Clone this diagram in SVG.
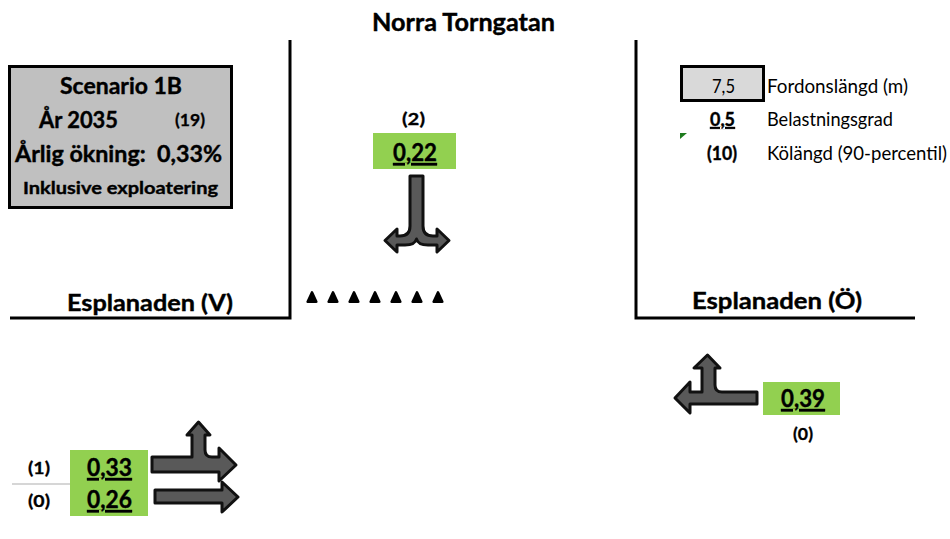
<svg xmlns="http://www.w3.org/2000/svg" width="950" height="539" viewBox="0 0 950 539">
  <style>
    text { font-family: Lato, "Liberation Sans", sans-serif; fill: #000; }
    .b { font-weight: bold; stroke: #000; stroke-width: 0.4; }
    .road { stroke: #000; stroke-width: 3; fill: none; }
    .green { fill: #92d050; }
    .arrow { fill: #595959; stroke: #111; stroke-width: 3; stroke-linejoin: round; }
    .val { font-weight: bold; font-size: 24.5px; text-decoration: underline; stroke: #000; stroke-width: 0.4; }
    .q { font-weight: bold; font-size: 17px; stroke: #000; stroke-width: 0.3; }
    .leg { font-size: 19px; }
    .ped { fill: #000; stroke: #000; stroke-width: 2.4; stroke-linejoin: round; }
  </style>
  <defs>
    <polygon id="tri" class="ped" points="0,-5.2 4.4,4.2 -4.4,4.2"/>
  </defs>

  <rect width="950" height="539" fill="#fff"/>

  <!-- street edges and names -->
  <g id="streets">
    <polyline class="road" points="290,40 290,318 10,318"/>
    <polyline class="road" points="636,40 636,318 915,318"/>
    <text class="b" x="372" y="31" font-size="25.5" textLength="183" lengthAdjust="spacingAndGlyphs">Norra Torngatan</text>
    <text class="b" x="67" y="311" font-size="23" textLength="166" lengthAdjust="spacingAndGlyphs">Esplanaden (V)</text>
    <text class="b" x="692" y="309" font-size="23" textLength="170" lengthAdjust="spacingAndGlyphs">Esplanaden (Ö)</text>
  </g>

  <!-- scenario info -->
  <g id="scenario">
    <rect x="9.5" y="66.5" width="222" height="141" fill="#c0c0c0" stroke="#000" stroke-width="3"/>
    <text class="b" x="60" y="94" font-size="22.5" textLength="122" lengthAdjust="spacingAndGlyphs">Scenario 1B</text>
    <text class="b" x="39" y="128" font-size="22.5" textLength="79" lengthAdjust="spacingAndGlyphs">År 2035</text>
    <text class="q" x="175" y="126" textLength="30" lengthAdjust="spacingAndGlyphs">(19)</text>
    <text class="b" x="15" y="162" font-size="22.5" textLength="207" lengthAdjust="spacingAndGlyphs" xml:space="preserve">Årlig ökning:  0,33%</text>
    <text class="b" x="23" y="194" font-size="17.5" textLength="195" lengthAdjust="spacingAndGlyphs">Inklusive exploatering</text>
  </g>

  <!-- legend -->
  <g id="legend">
    <rect x="681.5" y="66.5" width="82" height="34" fill="#d9d9d9" stroke="#000" stroke-width="3"/>
    <text class="leg" x="712" y="93" textLength="23" lengthAdjust="spacingAndGlyphs">7,5</text>
    <text class="leg" x="767" y="93" textLength="141" lengthAdjust="spacingAndGlyphs">Fordonslängd (m)</text>
    <text class="leg b" x="710" y="126" textLength="25" lengthAdjust="spacingAndGlyphs" text-decoration="underline">0,5</text>
    <text class="leg" x="767" y="126" textLength="126" lengthAdjust="spacingAndGlyphs">Belastningsgrad</text>
    <polygon points="680,133 687,133 680,139" fill="#1e7b1e"/>
    <text class="leg b" x="707" y="160" textLength="30" lengthAdjust="spacingAndGlyphs">(10)</text>
    <text class="leg" x="767" y="160" textLength="180" lengthAdjust="spacingAndGlyphs">Kölängd (90-percentil)</text>
  </g>

  <!-- pedestrian crossing -->
  <g id="crossing">
    <use href="#tri" x="312" y="297.5"/>
    <use href="#tri" x="333" y="297.5"/>
    <use href="#tri" x="354" y="297.5"/>
    <use href="#tri" x="375" y="297.5"/>
    <use href="#tri" x="396" y="297.5"/>
    <use href="#tri" x="417" y="297.5"/>
    <use href="#tri" x="438" y="297.5"/>
  </g>

  <!-- northern approach -->
  <g id="north">
    <text class="q" x="402" y="125" textLength="23" lengthAdjust="spacingAndGlyphs">(2)</text>
    <rect class="green" x="373" y="133" width="83" height="36"/>
    <text class="val" x="393" y="161" textLength="44" lengthAdjust="spacingAndGlyphs">0,22</text>
  </g>

  <!-- eastern approach -->
  <g id="east">
    <rect class="green" x="763" y="382" width="77" height="33"/>
    <text class="val" x="781" y="407" textLength="44" lengthAdjust="spacingAndGlyphs">0,39</text>
    <text class="q" x="793" y="440" textLength="20" lengthAdjust="spacingAndGlyphs">(0)</text>
  </g>

  <!-- western approach -->
  <g id="west">
    <line x1="12" y1="484" x2="70" y2="484" stroke="#c8c8c8" stroke-width="1.5"/>
    <text class="q" x="28" y="474" textLength="22" lengthAdjust="spacingAndGlyphs">(1)</text>
    <text class="q" x="28" y="507" textLength="22" lengthAdjust="spacingAndGlyphs">(0)</text>
    <rect class="green" x="70" y="450" width="78" height="66"/>
    <text class="val" x="87" y="476" textLength="45" lengthAdjust="spacingAndGlyphs">0,33</text>
    <text class="val" x="87" y="508" textLength="45" lengthAdjust="spacingAndGlyphs">0,26</text>
  </g>

  <!-- turning movement arrows -->
  <g id="connectors">
    <path class="arrow" d="M410,176 H423 V226 Q423,236 433,236 H437 V229 L449,240.5 L437,252 V245 H428 Q418,245 416.5,239 Q415,245 405,245 H397 V252 L385,240.5 L397,229 V236 H400 Q410,236 410,226 Z"/>
    <path class="arrow" d="M757,392 H722 Q715,392 715,385 V368 H720 L707.5,355 L694,368 H702 V392 H690 V382 L675,398 L690,413 V404 H757 Z"/>
    <path class="arrow" d="M152,457 H192 V435 H187 L198.5,422 L210,435 H205 V450 Q205,457 212,457 H219 V448 L236,465 L219,481 V472 H152 Z"/>
    <path class="arrow" d="M155,490 H222 V482 L238,497 L222,512 V503 H155 Z"/>
  </g>
</svg>
